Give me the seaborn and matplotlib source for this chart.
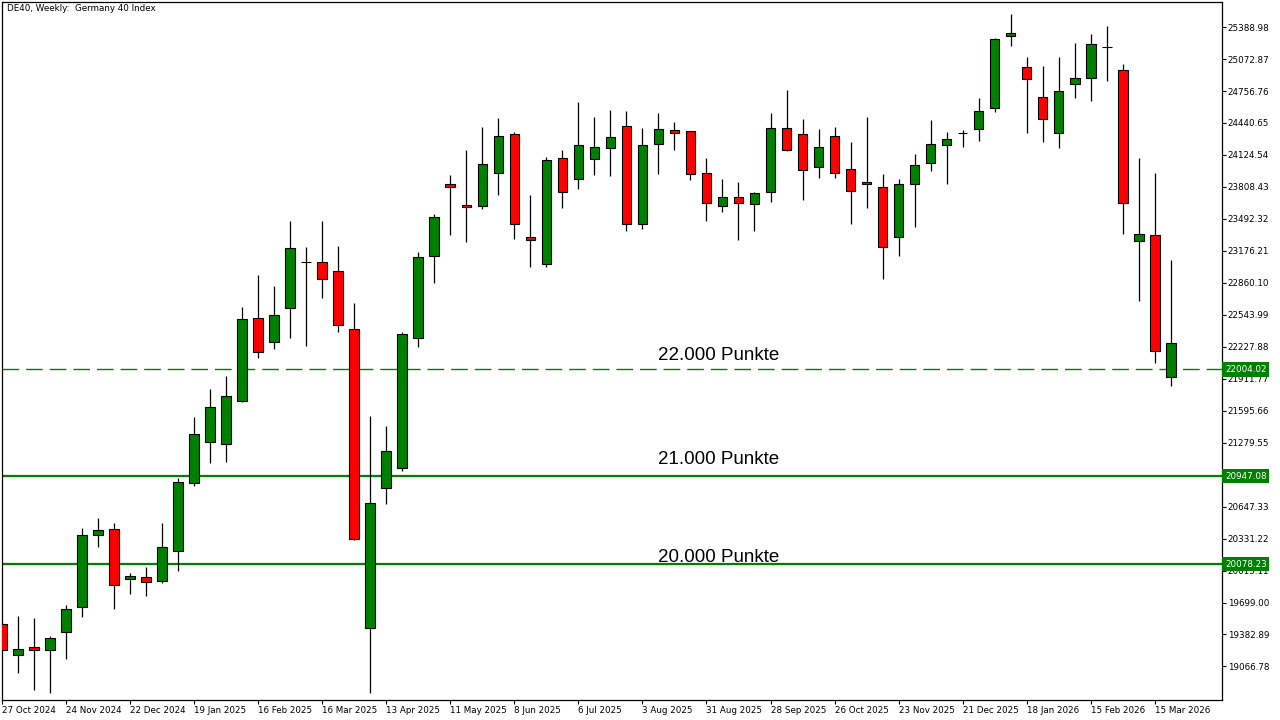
import matplotlib
matplotlib.use('Agg')
import matplotlib.pyplot as plt
import matplotlib.transforms as mtransforms
import numpy as np
import pandas as pd
import seaborn as sns

# Weekly DE40 candles, first week 27 Oct 2024, last week 22 Mar 2026
opens = [19489, 19180, 19262, 19230, 19407, 19656, 20368, 20427, 19933, 19951,
         19915, 20210, 20881, 21285, 21267, 21693, 22509, 22273, 22609, 23062,
         23062, 22976, 22405, 19448, 20831, 21031, 22314, 23130, 23833, 23629,
         23616, 23942, 24332, 23312, 23044, 24092, 23888, 24083, 24192, 24409,
         23439, 24228, 24373, 24360, 23942, 23616, 23706, 23638, 23756, 24396,
         24328, 24001, 24310, 23983, 23856, 23806, 23312, 23842, 24047, 24219,
         24339, 24378, 24586, 25298, 24999, 24695, 24346, 24822, 24881, 25189,
         24963, 23276, 23330, 21929]
highs = [19495, 19561, 19543, 19371, 19679, 20432, 20532, 20486, 19988, 20046,
         20486, 20926, 21530, 21806, 21938, 22623, 22940, 22831, 23475, 23217,
         23475, 23221, 22663, 21548, 21448, 22369, 23167, 23543, 23929, 24169,
         24405, 24491, 24355, 23729, 24106, 24174, 24650, 24500, 24568, 24559,
         24391, 24541, 24450, 24365, 24097, 23888, 23861, 23756, 24541, 24768,
         24482, 24382, 24400, 24255, 24500, 23938, 23888, 24137, 24473, 24350,
         24373, 24691, 25280, 25516, 25090, 25008, 25090, 25230, 25321, 25398,
         25022, 24092, 23947, 23081]
lows = [19220, 18999, 18836, 18808, 19139, 19552, 20246, 19634, 19779, 19761,
        19888, 20015, 20849, 21076, 21090, 21685, 22115, 22210, 22310, 22232,
        22713, 22369, 20320, 18808, 20677, 20999, 22228, 22854, 23335, 23262,
        23593, 23729, 23289, 23013, 23013, 23602, 23784, 23924, 23915, 23371,
        23389, 23933, 24169, 23874, 23471, 23557, 23280, 23371, 23657, 24160,
        23675, 23897, 23897, 23443, 23602, 22895, 23130, 23416, 23970, 23838,
        24205, 24260, 24550, 25199, 24337, 24251, 24192, 24691, 24654, 24858,
        23339, 22677, 22065, 21838]
closes = [19226, 19244, 19230, 19353, 19638, 20368, 20418, 19874, 19965, 19901,
          20251, 20890, 21366, 21634, 21743, 22500, 22174, 22541, 23203, 23062,
          22899, 22441, 20328, 20686, 21198, 22355, 23112, 23507, 23806, 23607,
          24038, 24310, 23439, 23280, 24074, 23756, 24219, 24201, 24301, 23439,
          24219, 24378, 24346, 23933, 23652, 23706, 23652, 23747, 24387, 24169,
          23974, 24201, 23951, 23765, 23833, 23212, 23833, 24024, 24228, 24278,
          24343, 24555, 25276, 25326, 24872, 24477, 24754, 24881, 25217, 25190,
          23652, 23339, 22187, 22264]

date_labels = ['27 Oct 2024', '24 Nov 2024', '22 Dec 2024', '19 Jan 2025',
               '16 Feb 2025', '16 Mar 2025', '13 Apr 2025', '11 May 2025',
               '8 Jun 2025', '6 Jul 2025', '3 Aug 2025', '31 Aug 2025',
               '28 Sep 2025', '26 Oct 2025', '23 Nov 2025', '21 Dec 2025',
               '18 Jan 2026', '15 Feb 2026', '15 Mar 2026']

price_ticks = [25388.98, 25072.87, 24756.76, 24440.65, 24124.54, 23808.43,
               23492.32, 23176.21, 22860.10, 22543.99, 22227.88, 21911.77,
               21595.66, 21279.55, 20963.44, 20647.33, 20331.22, 20015.11,
               19699.00, 19382.89, 19066.78]

levels = [22004.02, 20947.08, 20078.23]
level_names = ['22.000 Punkte', '21.000 Punkte', '20.000 Punkte']

GREEN = '#008000'
RED = '#ff0000'

sns.set_style('white')
plt.rcParams['font.family'] = ['DejaVu Sans']

df = pd.DataFrame({'open': opens, 'high': highs, 'low': lows, 'close': closes})
df['week'] = np.arange(len(df))
df['bull'] = df['close'] >= df['open']

fig = plt.figure(figsize=(12.8, 7.2), dpi=100)
ax = fig.add_axes([2 / 1280, 20 / 720, 1220 / 1280, 698.5 / 720])

# wicks, then bodies on top
ax.vlines(df['week'], df['low'], df['high'], color='black', lw=0.9, zorder=2)
ax.bar(df['week'], (df['close'] - df['open']).abs(),
       bottom=df[['open', 'close']].min(axis=1), width=0.6,
       color=np.where(df['bull'], GREEN, RED), edgecolor='black',
       linewidth=0.8, zorder=3)

# support levels
ax.axhline(levels[0], color=GREEN, lw=1.0, ls=(0, (12, 5)), zorder=1)
ax.axhline(levels[1], color=GREEN, lw=1.6, zorder=1)
ax.axhline(levels[2], color=GREEN, lw=1.6, zorder=1)

text_offsets = [7, 9, 1.5]
for lvl, name, off in zip(levels, level_names, text_offsets):
    ax.annotate(name, xy=(41.0, lvl), xytext=(0, off), textcoords='offset points',
                ha='left', va='baseline', fontsize=13.5, family='Liberation Sans',
                color='black', zorder=6)

# price tags on the right scale
trans = mtransforms.blended_transform_factory(ax.transAxes, ax.transData)
for lvl in levels:
    ax.text(1.0025, lvl, f'{lvl:.2f}', transform=trans, ha='left', va='center',
            fontsize=6.3, color='white', clip_on=False, zorder=10,
            bbox=dict(boxstyle='square,pad=0.3', fc=GREEN, ec='none'))

ax.set_xlim(0, 76.2)
ax.set_ylim(18735, 25642)

# the 20947.08 tag hides the 20963.44 label completely, as on the terminal
tick_text = [f'{p:.2f}' for p in price_ticks]
tick_text[price_ticks.index(20963.44)] = ''

ax.yaxis.tick_right()
ax.set_yticks(price_ticks)
ax.set_yticklabels(tick_text)
ax.set_xticks(np.arange(0, len(df), 4))
ax.set_xticklabels(date_labels, ha='left')
ax.tick_params(axis='y', which='both', direction='out', length=3, width=0.8,
               pad=1, labelsize=6.3, colors='black', right=True, left=False)
ax.tick_params(axis='x', which='both', direction='out', length=3, width=0.8,
               pad=1, labelsize=6.3, colors='black', bottom=True)

for spine in ax.spines.values():
    spine.set_color('black')
    spine.set_linewidth(0.9)

ax.text(0.004, 0.997, 'DE40, Weekly:  Germany 40 Index', transform=ax.transAxes,
        ha='left', va='top', fontsize=6.3, color='black')

fig.savefig('out.png', dpi=100, facecolor='white')
plt.close(fig)
